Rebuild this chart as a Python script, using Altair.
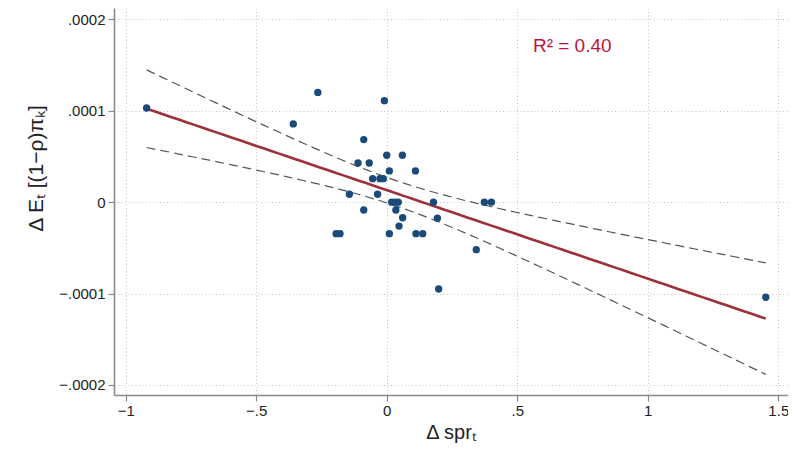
import altair as alt
import numpy as np
import pandas as pd

# Scatter data
spr_change = [-0.920, -0.264, -0.009, -0.358, -0.088, -0.110, -0.067, 0.000, 0.060, 0.010,
              0.110, -0.054, -0.026, -0.013, -0.143, -0.035, 0.019, 0.032, 0.044, 0.179,
              0.374, 0.401, -0.088, 0.035, 0.061, 0.194, 0.047, -0.194, -0.179, 0.010,
              0.112, 0.138, 0.343, 0.199, 1.452]
pi_change = [0.0001030, 0.0001200, 0.0001110, 0.0000856, 0.0000684, 0.0000428, 0.0000428,
             0.0000513, 0.0000513, 0.0000342, 0.0000342, 0.0000257, 0.0000257, 0.0000257,
             0.0000086, 0.0000086, 0.0, 0.0, 0.0, 0.0, 0.0, 0.0, -0.0000086, -0.0000086,
             -0.0000171, -0.0000175, -0.0000262, -0.0000345, -0.0000345, -0.0000345,
             -0.0000345, -0.0000345, -0.0000520, -0.0000950, -0.0001040]

x_ticks = [-1, -0.5, 0, 0.5, 1, 1.5]
y_ticks = [-0.0002, -0.0001, 0, 0.0001, 0.0002]
r2_text = ["R² = 0.40"]
r2_pos_x = [0.56]
r2_pos_y = [0.000171]

# OLS fit with 95% CI of the mean prediction (Stata lfitci)
xa = np.array(spr_change)
ya = np.array(pi_change)
n = len(xa)
xm, ym = xa.mean(), ya.mean()
sxx = ((xa - xm) ** 2).sum()
b1 = ((xa - xm) * (ya - ym)).sum() / sxx
b0 = ym - b1 * xm
s2 = ((ya - b0 - b1 * xa) ** 2).sum() / (n - 2)
t_crit = 2.0345
grid = np.linspace(xa.min(), xa.max(), 80)
fit = b0 + b1 * grid
se = np.sqrt(s2 * (1.0 / n + (grid - xm) ** 2 / sxx))

pts = pd.DataFrame({"x": spr_change, "y": pi_change})
fit_df = pd.DataFrame({"x": grid, "y": fit})
ci_df = pd.concat([
    pd.DataFrame({"x": grid, "y": fit + t_crit * se, "bound": "upper"}),
    pd.DataFrame({"x": grid, "y": fit - t_crit * se, "bound": "lower"}),
])
txt_df = pd.DataFrame({"x": r2_pos_x, "y": r2_pos_y, "t": r2_text})

FONT = "Liberation Sans, Arial, Helvetica, sans-serif"

xs = alt.Scale(domain=[-1.0448, 1.5372], nice=False, zero=False)
ys = alt.Scale(domain=[-0.00021094, 0.00021236], nice=False, zero=False)

x_axis = alt.Axis(
    values=x_ticks, title="Δ sprₜ",
    labelExpr="replace(format(datum.value, '.1~f'), '0.', '.')",
    grid=True, gridColor="#c4c4c4", gridDash=[1, 2.5], gridWidth=1,
    domainColor="#8a8a8a", domainWidth=1.6, tickColor="#8a8a8a", tickSize=6, tickWidth=1.2,
    labelFontSize=15, labelColor="#222222", labelFont=FONT, labelPadding=2,
    titleFontSize=20, titleFontWeight="normal", titleFont=FONT, titleColor="#222222",
    titleY=43, titleBaseline="alphabetic",
)
y_axis = alt.Axis(
    values=y_ticks, title="Δ Eₜ [(1−ρ)πₖ]",
    labelExpr="datum.value == 0 ? '0' : replace(format(datum.value, '.4f'), '0.', '.')",
    grid=True, gridColor="#c4c4c4", gridDash=[1, 2.5], gridWidth=1,
    domainColor="#8a8a8a", domainWidth=1.6, tickColor="#8a8a8a", tickSize=6, tickWidth=1.2,
    labelFontSize=15, labelColor="#222222", labelFont=FONT, labelPadding=3,
    titleFontSize=21, titleFontWeight="normal", titleFont=FONT, titleColor="#222222",
    titleX=-68, titleY=160, titleAlign="center", titleAngle=270, titleBaseline="bottom",
)

ci = alt.Chart(ci_df).mark_line(color="#555555", strokeWidth=1.2, strokeDash=[9, 5]).encode(
    x=alt.X("x:Q", scale=xs, axis=x_axis),
    y=alt.Y("y:Q", scale=ys, axis=y_axis),
    detail="bound:N",
)
fit_line = alt.Chart(fit_df).mark_line(color="#9e3137", strokeWidth=2.6).encode(
    x=alt.X("x:Q", scale=xs), y=alt.Y("y:Q", scale=ys)
)
dots = alt.Chart(pts).mark_circle(color="#1a4a7a", opacity=1, size=54).encode(
    x=alt.X("x:Q", scale=xs), y=alt.Y("y:Q", scale=ys)
)
label = alt.Chart(txt_df).mark_text(
    align="left", baseline="middle", fontSize=19, font=FONT, color="#c0143c"
).encode(x=alt.X("x:Q", scale=xs), y=alt.Y("y:Q", scale=ys), text="t:N")

chart = alt.layer(ci, fit_line, dots, label).properties(
    width=674, height=387,
    autosize=alt.AutoSizeParams(type="none"),
    padding={"left": 106, "top": 0, "right": 0, "bottom": 48},
    background="white",
).configure_view(stroke=None)

chart.save("out.html", embed_options={"renderer": "svg", "actions": False})
